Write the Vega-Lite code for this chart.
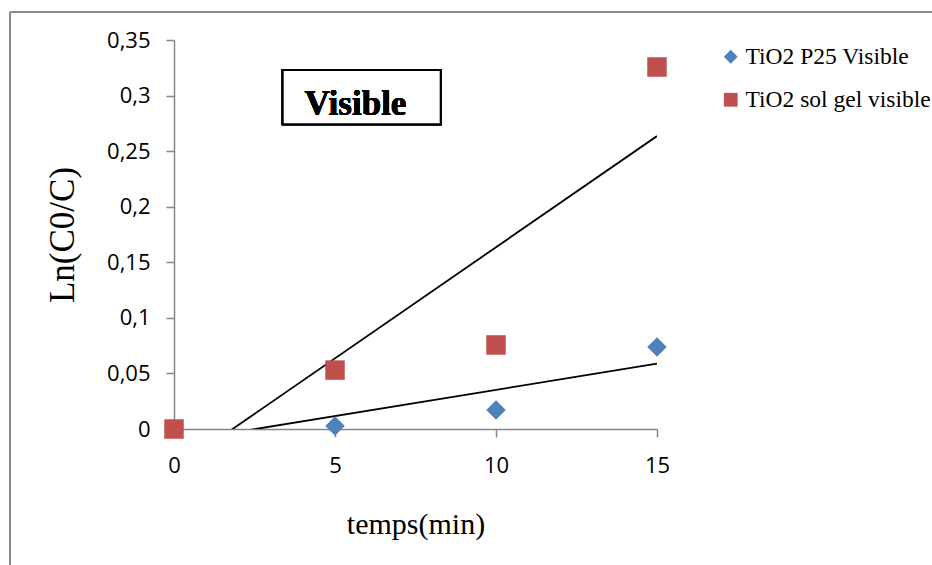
{
  "$schema": "https://vega.github.io/schema/vega-lite/v6.json",
  "width": 483,
  "height": 389,
  "autosize": {"type": "none"},
  "padding": {"left": 174, "top": 40, "right": 275, "bottom": 136},
  "background": "white",
  "config": {
    "view": {"stroke": null},
    "axis": {
      "grid": false,
      "domainColor": "#868686",
      "domainWidth": 1.5,
      "tickColor": "#868686",
      "tickWidth": 1.5,
      "tickSize": 8,
      "labelFont": "Open Sans",
      "labelFontSize": 22,
      "labelColor": "#000000",
      "labelFlush": false,
      "titleFont": "Liberation Serif",
      "titleFontWeight": "normal",
      "titleColor": "#000000"
    }
  },
  "data": {
    "values": [
      {"series": "TiO2 P25 Visible", "temps": 0, "ln": 0},
      {"series": "TiO2 P25 Visible", "temps": 5, "ln": 0.0027},
      {"series": "TiO2 P25 Visible", "temps": 10, "ln": 0.0171},
      {"series": "TiO2 P25 Visible", "temps": 15, "ln": 0.0738},
      {"series": "TiO2 sol gel visible", "temps": 0, "ln": 0},
      {"series": "TiO2 sol gel visible", "temps": 5, "ln": 0.053},
      {"series": "TiO2 sol gel visible", "temps": 10, "ln": 0.0756},
      {"series": "TiO2 sol gel visible", "temps": 15, "ln": 0.3257}
    ]
  },
  "layer": [
    {
      "mark": {"type": "rule", "color": "#8c8c8c", "strokeWidth": 2},
      "encoding": {
        "x": {"datum": -5.093, "type": "quantitative", "scale": {"domain": [0, 15]}},
        "x2": {"datum": 40},
        "y": {"datum": 0.3752, "type": "quantitative", "scale": {"domain": [0, 0.35]}}
      }
    },
    {
      "mark": {"type": "rule", "color": "#8c8c8c", "strokeWidth": 2},
      "encoding": {
        "x": {"datum": -5.093, "type": "quantitative"},
        "y": {"datum": 0.3752, "type": "quantitative"},
        "y2": {"datum": -1}
      }
    },
    {
      "transform": [
        {"regression": "ln", "on": "temps", "groupby": ["series"], "extent": [0, 15]}
      ],
      "mark": {"type": "line", "color": "#000000", "strokeWidth": 1.8, "clip": true},
      "encoding": {
        "x": {"field": "temps", "type": "quantitative"},
        "y": {"field": "ln", "type": "quantitative"},
        "detail": {"field": "series"}
      }
    },
    {
      "mark": {"type": "point", "filled": true, "opacity": 1},
      "encoding": {
        "x": {
          "field": "temps",
          "type": "quantitative",
          "scale": {"domain": [0, 15], "nice": false},
          "axis": {
            "values": [0, 5, 10, 15],
            "title": "temps(min)",
            "titleFontSize": 30,
            "titlePadding": 33,
            "labelPadding": 18
          }
        },
        "y": {
          "field": "ln",
          "type": "quantitative",
          "scale": {"domain": [0, 0.35], "nice": false},
          "axis": {
            "values": [0, 0.05, 0.1, 0.15, 0.2, 0.25, 0.3, 0.35],
            "labelExpr": "replace(toString(datum.value), '.', ',')",
            "labelPadding": 16,
            "title": "Ln(C0/C)",
            "titleFontSize": 35,
            "titlePadding": 26
          }
        },
        "color": {
          "field": "series",
          "type": "nominal",
          "scale": {"domain": ["TiO2 P25 Visible", "TiO2 sol gel visible"], "range": ["#4F81BD", "#C0504D"]},
          "legend": {
            "title": null,
            "orient": "none",
            "legendX": 545,
            "legendY": 5,
            "labelFont": "Liberation Serif",
            "labelFontSize": 23.5,
            "labelColor": "#000000",
            "labelLimit": 400,
            "symbolSize": 190,
            "labelOffset": 3,
            "rowPadding": 18,
            "symbolStrokeWidth": 0
          }
        },
        "shape": {
          "field": "series",
          "type": "nominal",
          "scale": {"domain": ["TiO2 P25 Visible", "TiO2 sol gel visible"], "range": ["diamond", "square"]}
        },
        "size": {"value": 380}
      }
    },
    {
      "mark": {"type": "rect", "fill": "white", "stroke": "#000000", "strokeWidth": 2},
      "encoding": {
        "x": {"datum": 3.376, "type": "quantitative"},
        "x2": {"datum": 8.283},
        "y": {"datum": 0.323, "type": "quantitative"},
        "y2": {"datum": 0.2742}
      }
    },
    {
      "mark": {"type": "text", "font": "Liberation Serif", "fontWeight": "bold", "fontSize": 35, "align": "center", "baseline": "alphabetic", "fill": "#000000", "stroke": null},
      "encoding": {
        "x": {"datum": 5.637, "type": "quantitative"},
        "y": {"datum": 0.2825, "type": "quantitative"},
        "text": {"value": "Visible"}
      }
    }
  ]
}
